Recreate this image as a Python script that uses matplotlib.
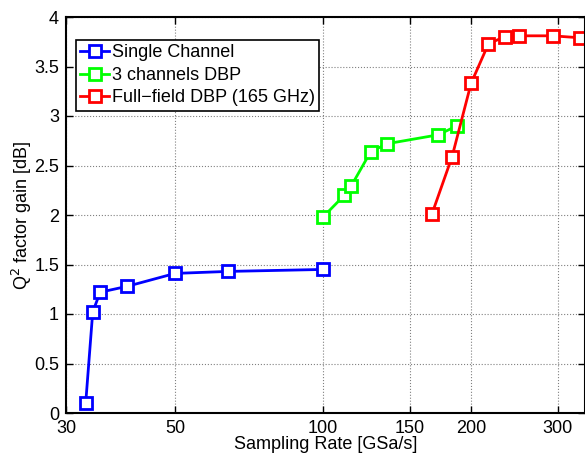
import matplotlib
matplotlib.use('Agg')
import matplotlib.pyplot as plt
from matplotlib.ticker import FixedLocator, FixedFormatter, NullLocator

plt.rcParams['font.family'] = ['Liberation Sans', 'DejaVu Sans']

# data
single_x = [32.9, 34.0, 35.2, 40.0, 50.0, 64.0, 100.0]
single_y = [0.10, 1.02, 1.22, 1.28, 1.41, 1.43, 1.45]

dbp3_x = [100.0, 110.5, 114.0, 125.0, 135.0, 171.5, 187.0]
dbp3_y = [1.98, 2.20, 2.29, 2.64, 2.72, 2.81, 2.90]

full_x = [166.5, 183.0, 200.0, 217.0, 234.0, 250.0, 293.0, 333.0]
full_y = [2.01, 2.59, 3.33, 3.73, 3.80, 3.81, 3.81, 3.79]

xticks = [30, 50, 100, 150, 200, 300]
yticks = [0, 0.5, 1, 1.5, 2, 2.5, 3, 3.5, 4]

fig = plt.figure(figsize=(5.85, 4.53), dpi=100)
ax = fig.add_axes([66/585, 1 - 413/453, (585 - 66)/585, (413 - 17)/453])

mk = dict(marker='s', markersize=8.5, markerfacecolor='white', markeredgewidth=2, linewidth=2)
ax.plot(single_x, single_y, color='#0000ff', label='Single Channel', **mk)
ax.plot(dbp3_x, dbp3_y, color='#00ff00', label='3 channels DBP', **mk)
ax.plot(full_x, full_y, color='#ff0000', label='Full\u2212field DBP (165 GHz)', **mk)

ax.set_xscale('log')
ax.set_xlim(30, 341)
ax.set_ylim(0, 4)
ax.xaxis.set_major_locator(FixedLocator(xticks))
ax.xaxis.set_major_formatter(FixedFormatter([str(t) for t in xticks]))
ax.xaxis.set_minor_locator(NullLocator())
ax.set_yticks(yticks)
ax.set_yticklabels(['0', '0.5', '1', '1.5', '2', '2.5', '3', '3.5', '4'])

ax.grid(True, linestyle=':', color='#808080', linewidth=0.8)
ax.tick_params(direction='in', labelsize=13, length=5, width=1, top=True, right=True, pad=5)
for s in ax.spines.values():
    s.set_linewidth(1.5)

ax.set_xlabel('Sampling Rate [GSa/s]', fontsize=13, labelpad=-1)
ax.set_ylabel('Q$^2$ factor gain [dB]', fontsize=13, labelpad=0)

leg = ax.legend(loc='upper left', bbox_to_anchor=(0.019, 0.942), fontsize=13,
                fancybox=False, edgecolor='black', framealpha=1, handlelength=1.6,
                handletextpad=0.15, borderpad=0.25, labelspacing=0.3, borderaxespad=0)
leg.get_frame().set_linewidth(1.2)

fig.savefig('out.png', dpi=100)
